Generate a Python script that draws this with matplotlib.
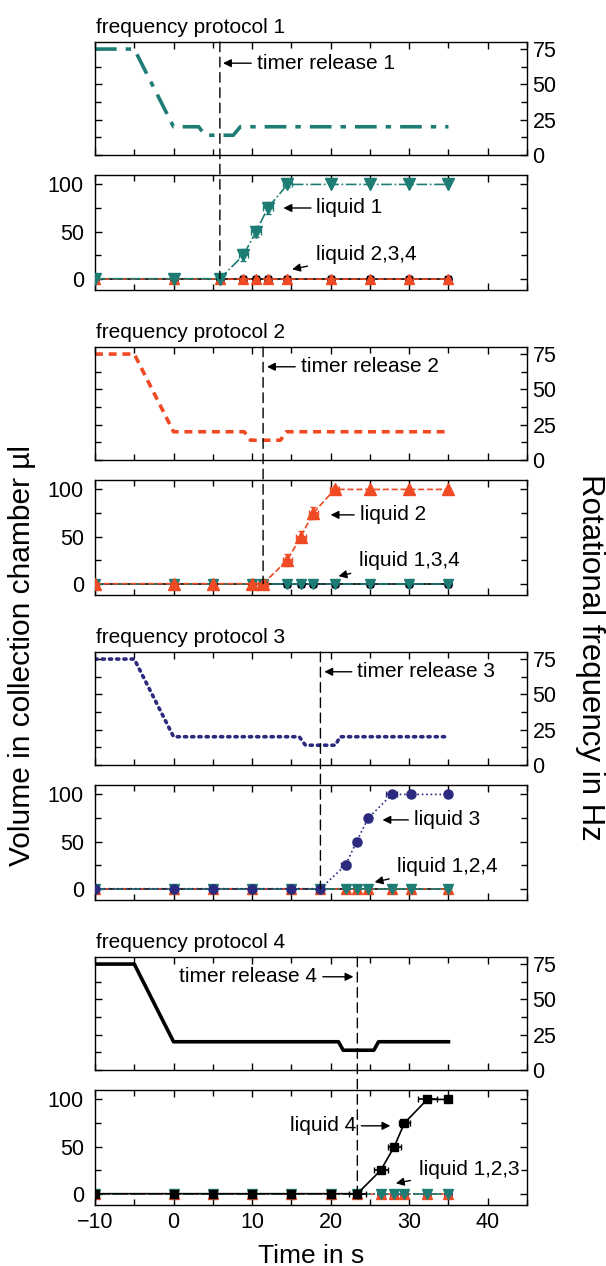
import matplotlib
matplotlib.use("Agg")
import matplotlib.pyplot as plt
from matplotlib.ticker import MultipleLocator
from matplotlib.patches import ConnectionPatch

plt.rcParams['font.family'] = ['Liberation Sans', 'DejaVu Sans']

# colours / styles of the four liquids
colors = ['#1d7d74', '#ef4a23', '#2c2a7e', '#000000']
markers = ['v', '^', 'o', 's']
msizes = [7, 7, 5.5, 5]
vol_ls = ['-.', '--', ':', '-']

# frequency protocols (time in s, frequency in Hz)
freq_t = [
    [-10, -5, 0, 3.2, 4.0, 7.6, 8.5, 35],
    [-10, -5, 0, 9.0, 9.8, 13.6, 14.4, 35],
    [-10, -5, 0, 16.0, 16.8, 20.6, 21.2, 35],
    [-10, -5, 0, 21.0, 21.6, 25.5, 26.1, 35],
]
freq_hz = [75, 75, 20, 20, 14, 14, 20, 20]

timer_release = [5.9, 11.4, 18.7, 23.4]

# measured volumes of the released liquid in each protocol
vol_t = [
    [-10, 0, 5.9, 8.9, 10.5, 12.0, 14.5, 20, 25, 30, 35],
    [-10, 0, 5, 10, 11.4, 14.5, 16.2, 17.8, 20.5, 25, 30, 35],
    [-10, 0, 5, 10, 15, 18.7, 21.9, 23.3, 24.8, 27.8, 30.2, 35],
    [-10, 0, 5, 10, 15, 20, 23.4, 26.4, 28.1, 29.4, 32.3, 35],
]
vol_ul = [
    [0, 0, 0, 25, 50, 75, 100, 100, 100, 100, 100],
    [0, 0, 0, 0, 0, 25, 50, 75, 100, 100, 100, 100],
    [0, 0, 0, 0, 0, 0, 25, 50, 75, 100, 100, 100],
    [0, 0, 0, 0, 0, 0, 0, 25, 50, 75, 100, 100],
]
vol_xerr = [
    [0, 0, 0, 0.6, 0.6, 0.6, 0.6, 0, 0, 0, 0],
    [0, 0, 0, 0, 0.6, 0.6, 0.6, 0.6, 0.6, 0, 0, 0],
    [0, 0, 0, 0, 0, 0, 0.6, 0.4, 0.4, 0.7, 0, 0],
    [0, 0, 0, 0, 0, 0, 1.1, 0.9, 0.8, 0.7, 1.2, 0],
]
vol_yerr = [
    [0, 0, 0, 6, 6, 6, 3, 0, 0, 0, 0],
    [0, 0, 0, 0, 0, 6, 6, 6, 3, 0, 0, 0],
    [0, 0, 0, 0, 0, 0, 4, 4, 4, 0, 0, 0],
    [0, 0, 0, 0, 0, 0, 0, 0, 0, 0, 0, 0],
]

# annotation positions: (text, text xy, arrow tip xy)
timer_notes = [
    ('timer release 1', (10.6, 65), (6.3, 65)),
    ('timer release 2', (16.2, 66), (11.9, 66)),
    ('timer release 3', (23.4, 66), (19.2, 66)),
    ('timer release 4', (18.3, 66), (22.9, 66)),
]
liquid_notes = [
    ('liquid 1', (18.2, 75), (14.0, 75)),
    ('liquid 2', (23.7, 73), (20.0, 73)),
    ('liquid 3', (30.6, 73), (26.6, 73)),
    ('liquid 4', (23.2, 72), (27.6, 72)),
]
other_notes = [
    ('liquid 2,3,4', (18.1, 26), (15.1, 10)),
    ('liquid 1,3,4', (23.6, 25), (21.0, 8)),
    ('liquid 1,2,4', (28.5, 24), (25.6, 7)),
    ('liquid 1,2,3', (31.2, 26), (28.3, 11)),
]

W, H = 606, 1266
fig = plt.figure(figsize=(W / 100, H / 100), dpi=100)

left = 95 / W
width = (527 - 95) / W


def frac(top_px, bot_px):
    return [left, 1 - bot_px / H, width, (bot_px - top_px) / H]


def style_ticks(ax):
    ax.xaxis.set_major_locator(MultipleLocator(10))
    ax.xaxis.set_minor_locator(MultipleLocator(5))
    ax.tick_params(which='both', direction='in', top=True, right=True,
                   labelsize=15.5, width=1)
    ax.tick_params(which='major', length=5)
    ax.tick_params(which='minor', length=4)
    ax.tick_params(axis='y', which='major', pad=8)
    for s in ax.spines.values():
        s.set_linewidth(1)
    ax.set_xlim(-10, 45)


arrow = dict(arrowstyle='-|>', color='black', lw=1, mutation_scale=12,
             shrinkA=2, shrinkB=0)

for i in range(4):
    off = 305 * i
    axf = fig.add_axes(frac(42 + off, 155 + off))
    axv = fig.add_axes(frac(175 + off, 290 + off))

    # frequency protocol
    if i == 0:
        axf.plot(freq_t[i], freq_hz, color=colors[i], lw=2.6,
                 dashes=(6, 2.5, 1.5, 2.5))
    elif i == 1:
        axf.plot(freq_t[i], freq_hz, color=colors[i], lw=2.6, dashes=(2.2, 1.6))
    elif i == 2:
        axf.plot(freq_t[i], freq_hz, color=colors[i], lw=2.6,
                 dashes=(0.6, 1.4), dash_capstyle='round')
    else:
        axf.plot(freq_t[i], freq_hz, color=colors[i], lw=2.6)
    axf.set_ylim(0, 80)
    style_ticks(axf)
    axf.yaxis.set_major_locator(MultipleLocator(25))
    axf.yaxis.set_minor_locator(MultipleLocator(12.5))
    axf.tick_params(axis='y', labelleft=False, labelright=True, pad=4)
    axf.tick_params(axis='x', labelbottom=False)
    axf.text(0.002, 1.04, f'frequency protocol {i + 1}', transform=axf.transAxes,
             fontsize=15, ha='left', va='bottom')

    # volumes: the other liquids stay at zero, released liquid rises
    others = [k for k in range(4) if k != i]
    order = sorted(others, key=lambda k: (k == 0, k == 1))
    if i == 0:
        order = [2, 3, 1]
    for k in order:
        axv.plot(vol_t[i], [0] * len(vol_t[i]), color=colors[k], ls=vol_ls[k],
                 lw=1.2, marker=markers[k], ms=msizes[k], zorder=2)
    axv.errorbar(vol_t[i], vol_ul[i], xerr=vol_xerr[i], yerr=vol_yerr[i],
                 color=colors[i], ls=vol_ls[i], lw=1.2, marker=markers[i],
                 ms=msizes[i] + 1, capsize=2.5, elinewidth=1.2, zorder=3)
    axv.set_ylim(-12, 110)
    style_ticks(axv)
    axv.yaxis.set_major_locator(MultipleLocator(50))
    axv.yaxis.set_minor_locator(MultipleLocator(25))
    if i < 3:
        axv.tick_params(axis='x', labelbottom=False)
    else:
        axv.tick_params(axis='x', pad=5)
        axv.set_xlabel('Time in s', fontsize=19, labelpad=8)

    # timer release line across both panels
    t = timer_release[i]
    con = ConnectionPatch(xyA=(t, 80), coordsA=axf.transData,
                          xyB=(t, 0), coordsB=axv.transData,
                          color='black', lw=1, linestyle=(0, (7, 4)), zorder=1)
    fig.add_artist(con)

    txt, xyt, xy = timer_notes[i]
    ha = 'right' if i == 3 else 'left'
    axf.annotate(txt, xy=xy, xytext=xyt, fontsize=15, ha=ha, va='center',
                 arrowprops=arrow)
    txt, xyt, xy = liquid_notes[i]
    axv.annotate(txt, xy=xy, xytext=xyt, fontsize=15, ha=ha, va='center',
                 arrowprops=arrow)
    txt, xyt, xy = other_notes[i]
    axv.annotate(txt, xy=xy, xytext=xyt, fontsize=15, ha='left', va='center',
                 arrowprops=dict(arrow, shrinkA=4))

fig.text(22 / W, 1 - 655 / H, 'Volume in collection chamber µl', fontsize=21.5,
         rotation=90, ha='center', va='center')
fig.text(590 / W, 1 - 657 / H, 'Rotational frequency in Hz', fontsize=22.5,
         rotation=270, ha='center', va='center')

fig.savefig('out.png', dpi=100, facecolor='white')
